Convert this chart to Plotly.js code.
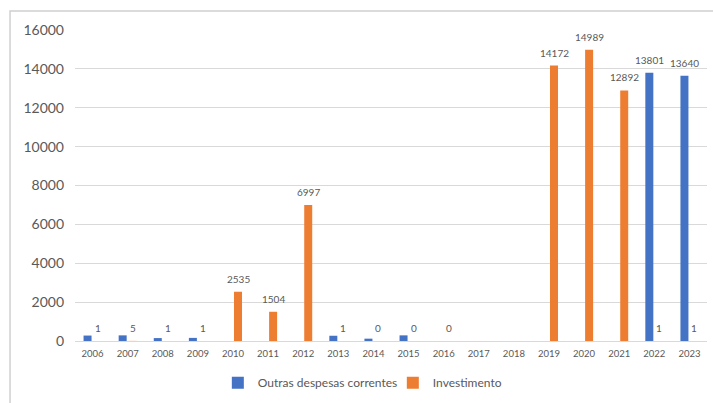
<!DOCTYPE html>
<html>
<head>
<meta charset="utf-8">
<script src="https://cdn.plot.ly/plotly-3.0.1.min.js"></script>
<style>html,body{margin:0;padding:0;background:#fff;}#chart{width:713px;height:403px;}</style>
</head>
<body>
<div id="chart"></div>
<script>
const years = ['2006','2007','2008','2009','2010','2011','2012','2013','2014','2015','2016','2017','2018','2019','2020','2021','2022','2023'];
const outrasValues = [280, 290, 150, 160, null, null, null, 270, 120, 290, null, null, null, null, null, null, 13801, 13640];
const outrasLabels = ['', '', '', '', '', '', '', '', '', '', '', '', '', '', '', '', '13801', '13640'];
const investValues = [1, 5, 1, 1, 2535, 1504, 6997, 1, 0, 0, 0, null, null, 14172, 14989, 12892, 1, 1];
const investLabels = ['1','5','1','1','2535','1504','6997','1','0','0','0','','','14172','14989','12892','1','1'];

const blue = '#4472C4', orange = '#ED7D31';
const labelFont = {size:10, color:'#595959', family:'Lato, "Noto Sans", sans-serif'};
const traces = [
  {type:'bar', name:'Outras despesas correntes', x:years, y:outrasValues,
   marker:{color:blue}, hoverinfo:'x+y'},
  {type:'bar', name:'Investimento', x:years, y:investValues,
   marker:{color:orange}, hoverinfo:'x+y'}
];
// data labels placed above each bar of its series (x given as category index)
const annotations = [];
function addLabels(vals, labels, shiftX) {
  years.forEach((yr, i) => {
    if (labels[i] === '' || vals[i] === null) return;
    annotations.push({x: i, y: vals[i], xref:'x', yref:'y', text: labels[i],
      showarrow:false, xanchor:'center', yanchor:'bottom', yshift:5, xshift:shiftX,
      font: labelFont});
  });
}
addLabels(outrasValues, outrasLabels, -5);
addLabels(investValues, investLabels, 5);

const layout = {
  width:713, height:403,
  margin:{l:75, r:6, t:30, b:60},
  paper_bgcolor:'#fff', plot_bgcolor:'#fff',
  font:{family:'Lato, "Noto Sans", sans-serif', color:'#595959'},
  barmode:'group', bargap:0.43, bargroupgap:0.2,
  showlegend:true,
  legend:{orientation:'h', x:0.226, xanchor:'left', y:-0.134, yanchor:'middle',
          font:{size:12, color:'#595959'}, itemwidth:30, entrywidth:130},
  xaxis:{type:'category', range:[-0.5, 17.5], tickfont:{size:9.5, color:'#595959'}, showgrid:false,
         showline:true, linecolor:'#d9d9d9', linewidth:1, ticks:'', zeroline:false,
         ticklabelstandoff:4},
  yaxis:{range:[0,16000], dtick:2000, tickfont:{size:14, color:'#595959'},
         gridcolor:'#d9d9d9', gridwidth:1, zeroline:false, showline:false,
         ticklabelstandoff:10, tickformat:'d'},
  annotations: annotations,
  shapes:[{type:'rect', xref:'paper', yref:'paper', x0:-0.1028, x1:1.05, y0:-0.3, y1:1.0607,
           line:{color:'#d0d0d0', width:1.5}, fillcolor:'rgba(0,0,0,0)', layer:'below'}]
};
Plotly.newPlot('chart', traces, layout, {displayModeBar:false, staticPlot:true});
</script>
</body>
</html>
